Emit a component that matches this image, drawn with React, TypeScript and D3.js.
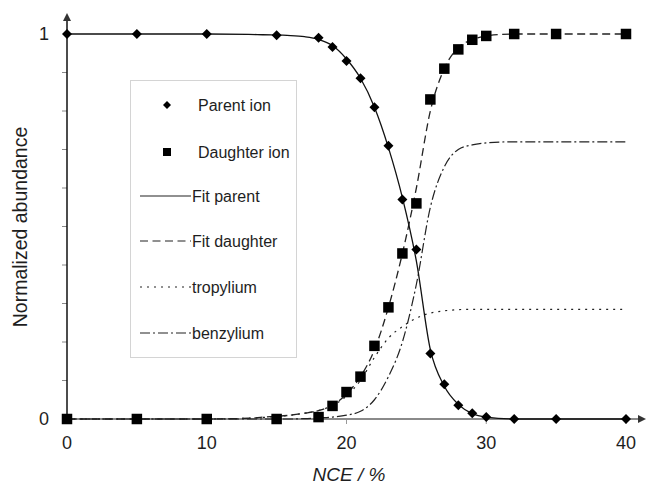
import React from 'react';
import * as d3 from 'd3';

// measured points
const nce = [0, 5, 10, 15, 18, 19, 20, 21, 22, 23, 24, 25, 26, 27, 28, 29, 30, 32, 35, 40];
const parentIon = [1, 1, 1, 0.997, 0.99, 0.966, 0.93, 0.885, 0.81, 0.71, 0.57, 0.44, 0.17, 0.09, 0.036, 0.015, 0.005, 0, 0, 0];
const daughterIon = [0, 0, 0, 0, 0.005, 0.034, 0.07, 0.11, 0.19, 0.29, 0.43, 0.56, 0.83, 0.91, 0.96, 0.985, 0.995, 1, 1, 1];

// fitted curves
const fitX = [0, 10, 13, 14, 16, 17, 18, 19, 20, 21, 22, 23, 24, 25, 26, 27, 28, 29, 30, 32, 35, 40];
const fitParent = [1, 1, 0.999, 0.998, 0.996, 0.993, 0.986, 0.97, 0.935, 0.885, 0.81, 0.705, 0.575, 0.41, 0.18, 0.085, 0.038, 0.014, 0.005, 0, 0, 0];
const fitDaughter = [0, 0, 0.002, 0.005, 0.01, 0.015, 0.022, 0.036, 0.065, 0.11, 0.18, 0.29, 0.43, 0.6, 0.8, 0.91, 0.965, 0.985, 0.995, 1, 1, 1];
const tropylium = [0, 0, 0.002, 0.004, 0.01, 0.015, 0.022, 0.035, 0.06, 0.1, 0.16, 0.21, 0.24, 0.262, 0.275, 0.281, 0.284, 0.285, 0.285, 0.285, 0.285, 0.285];
const benzylium = [0, 0, 0, 0, 0, 0.001, 0.003, 0.005, 0.01, 0.02, 0.05, 0.11, 0.2, 0.35, 0.55, 0.655, 0.7, 0.712, 0.717, 0.72, 0.72, 0.72];

const xTicks = [0, 10, 20, 30, 40];
const yLabels = [0, 1];
const yMinor = [0.1, 0.2, 0.3, 0.4, 0.5, 0.6, 0.7, 0.8, 0.9];

const legendItems = [
  { label: 'Parent ion', kind: 'diamond' },
  { label: 'Daughter ion', kind: 'square' },
  { label: 'Fit parent', kind: 'line', dash: '' },
  { label: 'Fit daughter', kind: 'line', dash: '8,4.5' },
  { label: 'tropylium', kind: 'line', dash: '2,5' },
  { label: 'benzylium', kind: 'line', dash: '10,3,2,3' },
];

const W = 647, H = 486;
const font = 'Liberation Sans, Arial, sans-serif';
const textCol = '#1e1e1e';

function Diamond(props: { cx: number, cy: number, r?: number }) {
  const r = props.r ?? 5;
  const { cx, cy } = props;
  return <path d={`M${cx},${cy - r}L${cx + r},${cy}L${cx},${cy + r}L${cx - r},${cy}Z`} fill="#000" />;
}

function Square(props: { cx: number, cy: number, s?: number }) {
  const s = props.s ?? 10.5;
  return <rect x={props.cx - s / 2} y={props.cy - s / 2} width={s} height={s} fill="#000" />;
}

export default function App() {
  const x = d3.scaleLinear().domain([0, 40]).range([67, 626]);
  const y = d3.scaleLinear().domain([0, 1]).range([419, 34]);

  const line = (vals: number[]) =>
    d3.line<number>()
      .x((_, i) => x(fitX[i]))
      .y(d => y(d))
      .curve(d3.curveMonotoneX)(vals) || '';

  const x0 = x(0), y0 = y(0);
  const legendRows = [105, 152, 196, 241, 287, 333];

  return (
    <svg width={W} height={H} style={{ position: 'absolute', left: 0, top: 0, background: '#fff' }}>
      {/* minor ticks */}
      {yMinor.map(v => (
        <line key={'ym' + v} x1={x0 - 5} x2={x0} y1={y(v)} y2={y(v)} stroke="#888" strokeWidth={1} />
      ))}
      {xTicks.map(v => (
        <line key={'xt' + v} x1={x(v)} x2={x(v)} y1={y0} y2={y0 + 5} stroke="#999" strokeWidth={1} />
      ))}

      {/* axes */}
      <line x1={x0} x2={640} y1={y0} y2={y0} stroke="#8a8a8a" strokeWidth={2} />
      <path d={`M646,${y0}L638,${y0 - 4}L638,${y0 + 4}Z`} fill="#333" />
      <line x1={x0} x2={x0} y1={y0} y2={20} stroke="#111" strokeWidth={1.5} />
      <path d={`M${x0},13L${x0 - 4},21L${x0 + 4},21Z`} fill="#333" />

      {/* tick labels */}
      {yLabels.map(v => (
        <text key={'yl' + v} x={x0 - 18} y={y(v)} dy="0.36em" textAnchor="end" fontFamily={font} fontSize={18} fill={textCol}>{v}</text>
      ))}
      {xTicks.map(v => (
        <text key={'xl' + v} x={x(v)} y={449} textAnchor="middle" fontFamily={font} fontSize={18} fill={textCol}>{v}</text>
      ))}

      <text transform="translate(27,227) rotate(-90)" textAnchor="middle" fontFamily={font} fontSize={19.5} fill={textCol}>Normalized abundance</text>
      <text x={349} y={481} textAnchor="middle" fontFamily={font} fontSize={19} fontStyle="italic" fill={textCol}>NCE / %</text>

      {/* legend */}
      <rect x={130.5} y={80.5} width={166} height={277} fill="#fff" stroke="#d4d4d4" strokeWidth={1} />
      {legendItems.map((it, i) => {
        const ly = legendRows[i];
        return (
          <g key={it.label}>
            {it.kind === 'diamond' && <Diamond cx={167} cy={ly} r={4} />}
            {it.kind === 'square' && <Square cx={167} cy={ly} s={8} />}
            {it.kind === 'line' && (
              <line x1={140} x2={191} y1={ly} y2={ly} stroke="#222" strokeWidth={1.2} strokeDasharray={it.dash} />
            )}
            <text x={it.kind === 'line' ? 192 : 198} y={ly} dy="0.36em" fontFamily={font} fontSize={16} fill={textCol}>{it.label}</text>
          </g>
        );
      })}

      {/* fit curves */}
      <path d={line(benzylium)} fill="none" stroke="#222" strokeWidth={1.2} strokeDasharray="10,3,2,3" />
      <path d={line(tropylium)} fill="none" stroke="#222" strokeWidth={1.2} strokeDasharray="2,5" />
      <path d={line(fitDaughter)} fill="none" stroke="#222" strokeWidth={1.3} strokeDasharray="8,4.5" />
      <path d={line(fitParent)} fill="none" stroke="#111" strokeWidth={1.3} />

      {/* data points */}
      {nce.map((v, i) => <Square key={'d' + v} cx={x(v)} cy={y(daughterIon[i])} />)}
      {nce.map((v, i) => <Diamond key={'p' + v} cx={x(v)} cy={y(parentIon[i])} />)}
    </svg>
  );
}
